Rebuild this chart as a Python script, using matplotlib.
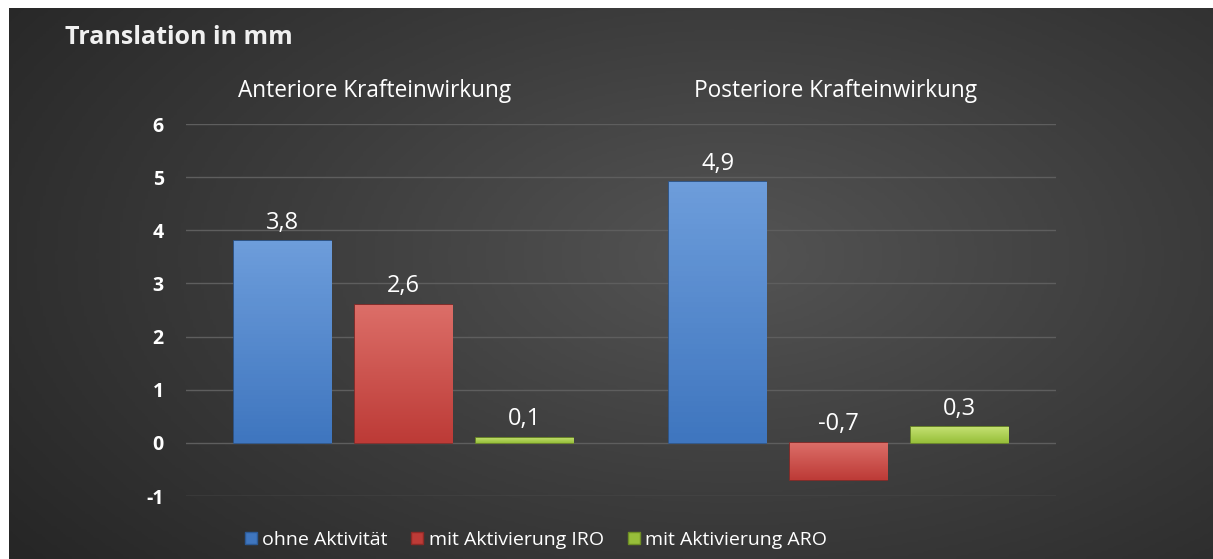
"""Translation in mm - grouped bars on a dark gradient background."""
import numpy as np
import matplotlib.pyplot as plt
from matplotlib.colors import LinearSegmentedColormap
from matplotlib.patches import Patch

categories = ['Anteriore Krafteinwirkung', 'Posteriore Krafteinwirkung']
series_names = ['ohne Aktivität', 'mit Aktivierung IRO', 'mit Aktivierung ARO']
ohne = [3.8, 4.9]
iro = [2.6, -0.7]
aro = [0.1, 0.3]
yticks = [-1, 0, 1, 2, 3, 4, 5, 6]

series = [ohne, iro, aro]
# (top colour, bottom colour, edge)
colors = [('#6d9ddb', '#3f76bf', '#2c5a96'),
          ('#dc6e68', '#bd3b37', '#8e2a27'),
          ('#c3e070', '#97bf3a', '#6f8f25')]

plt.rcParams['font.family'] = ['Open Sans', 'DejaVu Sans']

fig = plt.figure(figsize=(12.13, 5.59), dpi=100)
fig.patch.set_facecolor('white')

# dark radial gradient background
bg = fig.add_axes([9 / 1213, 0, 1 - 9 / 1213, 551 / 559])
gx, gy = np.meshgrid(np.linspace(0, 1, 400), np.linspace(0, 1, 200))
r = np.sqrt(((gx - 0.6) / 0.75) ** 2 + ((gy - 0.45) / 0.9) ** 2)
bg_cmap = LinearSegmentedColormap.from_list('bg', ['#545454', '#3c3c3c', '#262626'])
bg.imshow(np.clip(r, 0, 1), cmap=bg_cmap, vmin=0, vmax=1, aspect='auto',
          extent=[0, 1, 0, 1], origin='upper')
bg.set_axis_off()

ax = fig.add_axes([186 / 1213, 63 / 559, 870 / 1213, 372 / 559])
ax.patch.set_alpha(0)
x = np.arange(len(categories))
width = 0.223
step = 0.278

for i, (vals, name) in enumerate(zip(series, series_names)):
    top, bottom, edge = colors[i]
    bars = ax.bar(x + (i - 1) * step, vals, width, color=bottom,
                  edgecolor=edge, linewidth=1.2, label=name, zorder=3)
    grad = LinearSegmentedColormap.from_list('g%d' % i, [top, bottom])
    for b, v in zip(bars, vals):
        x0, y0 = b.get_x(), b.get_y()
        w, h = b.get_width(), b.get_height()
        lo, hi = min(y0, y0 + h), max(y0, y0 + h)
        im = ax.imshow(np.linspace(0, 1, 50).reshape(-1, 1), cmap=grad,
                       extent=[x0, x0 + w, lo, hi], aspect='auto',
                       origin='upper', zorder=3.5)
        im.set_clip_path(b)
        ax.text(x0 + w / 2, max(v, 0) + 0.12, ('%.1f' % v).replace('.', ','),
                ha='center', va='bottom', color='white', fontsize=17, zorder=5)

ax.set_xlim(-0.5, 1.5)
ax.set_ylim(-1, 6)
ax.set_yticks(yticks)
ax.set_yticklabels([str(t) for t in yticks], fontsize=14, fontweight='bold',
                   color='white')
ax.tick_params(axis='y', length=0, pad=16)
ax.set_xticks([])
ax.grid(axis='y', color='#5e5e5e', linewidth=1, zorder=0)
for s in ax.spines.values():
    s.set_visible(False)

# category labels above the plot (Excel placed them slightly left of centre)
label_shift = [-21, -2]
for xi, cat, dx in zip(x, categories, label_shift):
    ax.annotate(cat, (xi, 1), xycoords=('data', 'axes fraction'),
                xytext=(dx, 19.5), textcoords='offset points',
                ha='center', va='baseline', fontsize=16.3, color='white')

fig.text(65 / 1213, 1 - 38 / 559, 'Translation in mm', fontsize=18,
         fontweight='bold', color='#f0f0f0', ha='left', va='center')

handles = [Patch(facecolor=c[1], edgecolor=c[2]) for c in colors]
fig.legend(handles, series_names, loc='center', bbox_to_anchor=(536 / 1213, 1 - 540 / 559),
           ncol=3, frameon=False, fontsize=14, labelcolor='white',
           handlelength=0.62, handleheight=0.62, handletextpad=0.3, columnspacing=1.2)

fig.savefig('out.png', dpi=100, facecolor=fig.get_facecolor())
